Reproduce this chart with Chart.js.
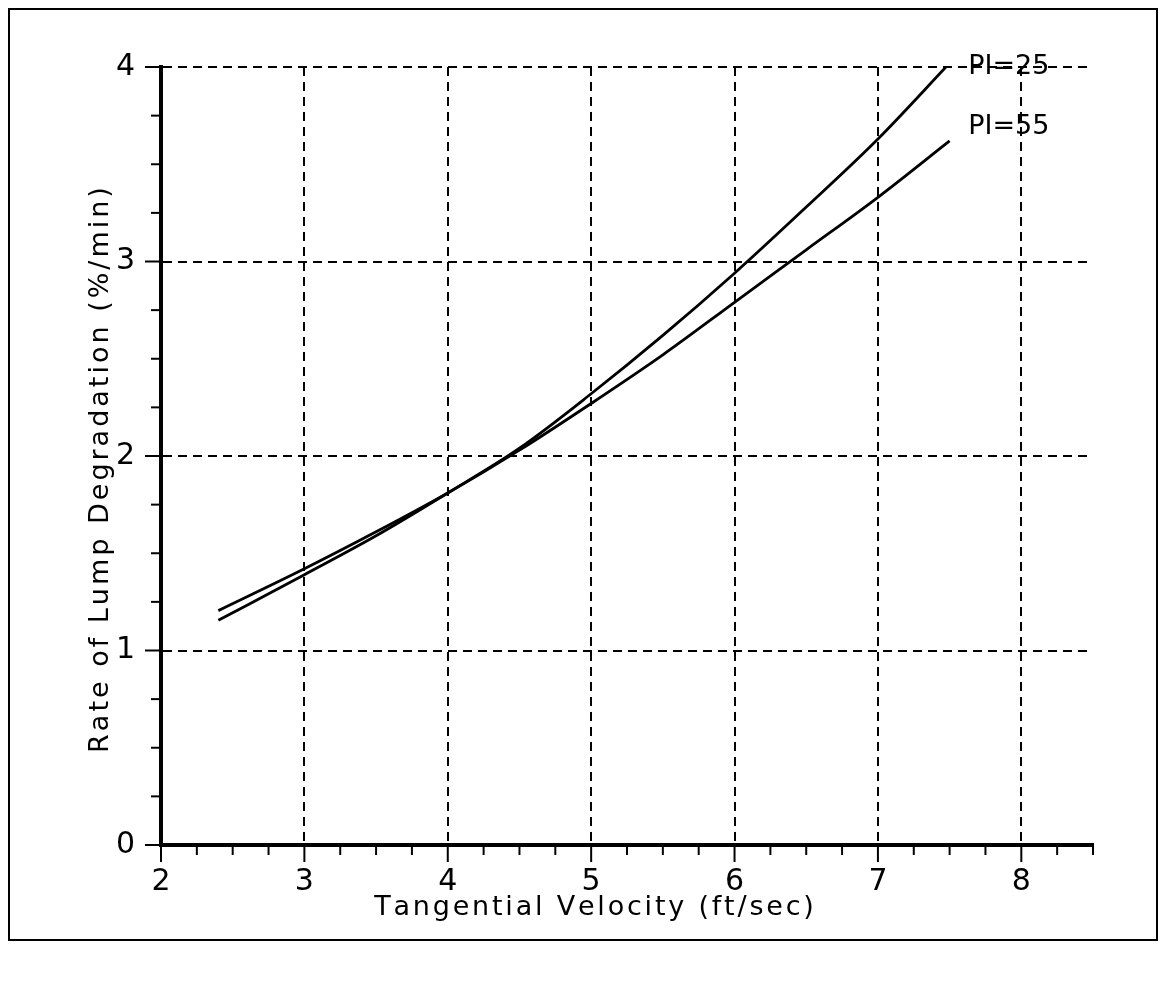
<!DOCTYPE html>
<html>
<head>
<meta charset="utf-8">
<script src="https://cdn.jsdelivr.net/npm/chart.js@4/dist/chart.umd.min.js"></script>
<style>
    html, body { margin: 0; padding: 0; background: #fff; }
    canvas { display: block; }
</style>
</head>
<body>
<canvas id="lumpChart" width="1165" height="983"></canvas>
<script>

// DATA
const velocity = [2.4, 3, 3.5, 4, 4.5, 5, 5.5, 6, 6.5, 7, 7.5];

const ratePI25 = [1.155, 1.39, 1.59, 1.81, 2.04, 2.32, 2.62, 2.94, 3.28, 3.63, 4.02];

const ratePI55 = [1.205, 1.42, 1.61, 1.81, 2.03, 2.27, 2.52, 2.79, 3.06, 3.33, 3.62];

const seriesNames = ['PI=25', 'PI=55'];

// where the curve names sit, in data units
const nameX = [7.63, 7.63];
const nameY = [4.0, 3.69];

const xMajorTicks = [2, 3, 4, 5, 6, 7, 8];
const yMajorTicks = [0, 1, 2, 3, 4];

const xTitle = 'Tangential Velocity (ft/sec)';
const yTitle = 'Rate of Lump Degradation (%/min)';

const FONT = 'DejaVu Sans';

function toPoints(xs, ys) {
    return xs.map((x, i) => ({ x: x, y: ys[i] }));
}

// plotter style text: each glyph placed with extra gap
function spacedText(ctx, text, cx, cy, gap) {
    const widths = Array.from(text).map(ch => ctx.measureText(ch).width);
    const total = widths.reduce((a, b) => a + b, 0) + gap * (widths.length - 1);
    let x = cx - total / 2;
    ctx.textAlign = 'left';
    Array.from(text).forEach((ch, i) => {
        ctx.fillText(ch, x, cy);
        x += widths[i] + gap;
    });
}

// ticks, titles, curve names and outer frame
const plotExtras = {

    id: 'plotExtras',

    afterDraw(chart) {

        const ctx = chart.ctx;
        const xs = chart.scales.x;
        const ys = chart.scales.y;
        const area = chart.chartArea;

        ctx.save();
        ctx.strokeStyle = '#000';
        ctx.lineWidth = 2;
        ctx.setLineDash([]);

        // x ticks (below axis)
        for (let v = 2; v <= 8.5 + 1e-9; v += 0.25) {
            const px = xs.getPixelForValue(v);
            const major = Math.abs(v - Math.round(v)) < 1e-9;
            ctx.beginPath();
            ctx.moveTo(px, area.bottom);
            ctx.lineTo(px, area.bottom + (major ? 17 : 10));
            ctx.stroke();
        }

        // y ticks (left of axis)
        for (let v = 0; v <= 4 + 1e-9; v += 0.25) {
            const py = ys.getPixelForValue(v);
            const major = Math.abs(v - Math.round(v)) < 1e-9;
            ctx.beginPath();
            ctx.moveTo(area.left, py);
            ctx.lineTo(area.left - (major ? 16 : 10), py);
            ctx.stroke();
        }

        ctx.fillStyle = '#000';
        ctx.textBaseline = 'middle';
        ctx.font = '27px "' + FONT + '"';

        // axis titles
        spacedText(ctx, xTitle, 594, 908, 2.8);

        ctx.save();
        ctx.translate(101, 470);
        ctx.rotate(-Math.PI / 2);
        spacedText(ctx, yTitle, 0, 0, 3);
        ctx.restore();

        // curve names
        ctx.textAlign = 'left';
        seriesNames.forEach((name, i) => {
            ctx.fillText(
                name,
                xs.getPixelForValue(nameX[i]),
                ys.getPixelForValue(nameY[i])
            );
        });

        // outer frame
        ctx.strokeRect(9, 9, 1148, 931);

        ctx.restore();
    }
};

const ctx = document.getElementById('lumpChart').getContext('2d');

new Chart(ctx, {

    type: 'line',

    data: {
        datasets: [
            {
                label: seriesNames[0],
                data: toPoints(velocity, ratePI25),
                borderColor: '#000',
                borderWidth: 2.8,
                pointRadius: 0,
                tension: 0.4,
                cubicInterpolationMode: 'monotone',
                fill: false
            },
            {
                label: seriesNames[1],
                data: toPoints(velocity, ratePI55),
                borderColor: '#000',
                borderWidth: 2.8,
                pointRadius: 0,
                tension: 0.4,
                cubicInterpolationMode: 'monotone',
                fill: false
            }
        ]
    },

    options: {

        responsive: false,
        devicePixelRatio: 1,
        animation: false,

        layout: {
            padding: { left: 20, top: 67, right: 72, bottom: 20 }
        },

        plugins: {
            legend: { display: false },
            tooltip: { enabled: false },
            title: { display: false }
        },

        scales: {

            x: {
                type: 'linear',
                min: 2,
                max: 8.5,
                afterFit(scale) { scale.height = 118; },
                afterBuildTicks(scale) {
                    scale.ticks = xMajorTicks.map(v => ({ value: v }));
                },
                ticks: {
                    color: '#000',
                    font: { family: FONT, size: 30 },
                    padding: 19,
                    autoSkip: false
                },
                grid: {
                    color: '#000',
                    lineWidth: 2,
                    drawTicks: false
                },
                border: {
                    color: '#000',
                    width: 4,
                    dash: [9, 6]
                },
                title: { display: false }
            },

            y: {
                type: 'linear',
                min: 0,
                max: 4,
                afterFit(scale) { scale.width = 141; },
                afterBuildTicks(scale) {
                    scale.ticks = yMajorTicks.map(v => ({ value: v }));
                },
                ticks: {
                    color: '#000',
                    font: { family: FONT, size: 30 },
                    padding: 26,
                    autoSkip: false
                },
                grid: {
                    color: '#000',
                    lineWidth: 2,
                    drawTicks: false
                },
                border: {
                    color: '#000',
                    width: 4,
                    dash: [9, 6]
                },
                title: { display: false }
            }
        }
    },

    plugins: [plotExtras]
});
</script>
</body>
</html>
